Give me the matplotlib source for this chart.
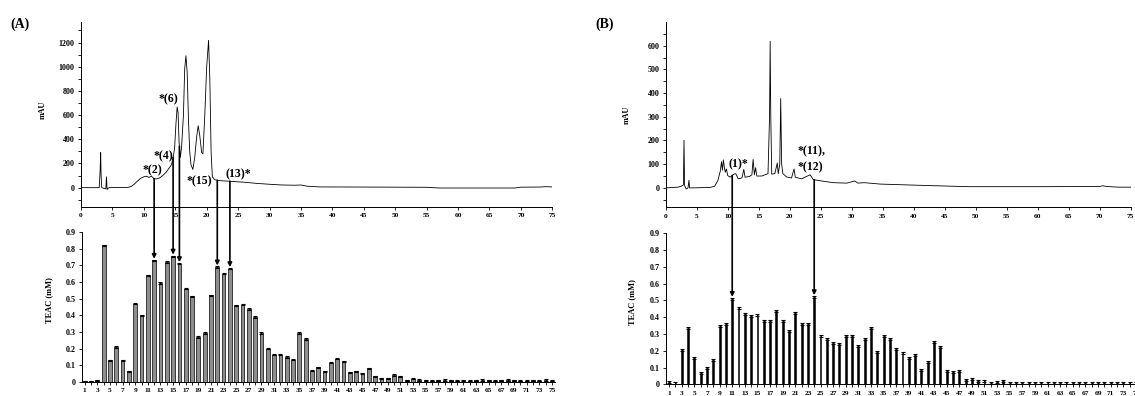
import numpy as np
import matplotlib.pyplot as plt
from matplotlib.patches import ConnectionPatch
from matplotlib.transforms import blended_transform_factory
from matplotlib.ticker import MultipleLocator, FixedLocator

plt.rcParams['font.family'] = ['Liberation Serif', 'DejaVu Serif']
plt.rcParams['font.weight'] = 'bold'
plt.rcParams['axes.linewidth'] = 0.7

# chromatogram (A): retention time (min), absorbance (mAU)
time_a = [0, 2.9, 3.05, 3.13, 3.2, 3.3, 3.6, 3.95, 4.05, 4.15, 4.3, 4.5, 7.5, 8.0, 8.5,
          9.0, 9.5, 10.0, 10.4, 10.8, 11.2, 11.6, 12.0, 12.5, 13.0, 13.5, 14.0, 14.4,
          14.7, 14.9, 15.1, 15.3, 15.45, 15.6, 15.8, 16.0, 16.3, 16.5, 16.7, 16.9, 17.1,
          17.3, 17.5, 17.8, 18.1, 18.4, 18.65, 18.9, 19.2, 19.4, 19.7, 20.0, 20.3, 20.5,
          20.7, 20.9, 21.3, 22, 23, 24, 25, 26, 27, 28, 30, 32, 34, 35, 36, 38, 45, 55,
          57, 69, 70, 73, 74, 75]
mau_a = [0, 0, 150, 290, 100, 0, -5, -10, 90, -15, -5, 0, 2, 10, 30,
         55, 78, 90, 95, 85, 95, 75, 72, 80, 100, 125, 160, 190,
         260, 330, 520, 667, 620, 380, 250, 330, 600, 980, 1091, 950, 560,
         300, 190, 150, 250, 420, 512, 430, 290, 280, 600, 1000, 1218, 900,
         300, 90, 65, 58, 55, 52, 48, 45, 40, 35, 28, 22, 20, 22, 12, 6, 5, 3,
         -3, -3, 4, 5, 8, 6]

# chromatogram (B)
time_b = [0, 2.0, 2.6, 2.85, 2.95, 3.05, 3.3, 3.6, 3.75, 3.85, 4.5, 7.2, 7.9, 8.4, 8.8,
          9.0, 9.15, 9.3, 9.5, 9.6, 9.8, 10.0, 10.4, 10.7, 11.0, 11.3, 11.7, 12.3, 12.6,
          12.8, 13.5, 13.9, 14.1, 14.3, 14.5, 14.7, 15.5, 16.0, 16.5, 16.75, 16.85, 16.95,
          17.1, 17.6, 18.0, 18.15, 18.4, 18.55, 18.7, 18.9, 19.5, 20.3, 20.7, 20.9, 21.9,
          22.7, 23.3, 23.8, 24.9, 27.0, 29.2, 30.5, 31.0, 32, 34.6, 42, 49, 60, 70, 70.5,
          71, 73, 75]
mau_b = [0, 3, 8, 12, 201, 10, -5, 0, 32, 0, 0, 2, 7, 30, 70,
         110, 75, 118, 80, 66, 80, 52, 45, 52, 58, 60, 38, 42, 78,
         45, 48, 55, 120, 55, 85, 50, 50, 55, 60, 300, 619, 300,
         58, 60, 105, 60, 100, 377, 100, 60, 46, 42, 80, 45, 38,
         48, 55, 35, 30, 22, 20, 29, 20, 22, 16, 10, 5, 5, 6, 9,
         6, 3, 3]

# TEAC of fractions 1..75 (mM)
fractions = np.arange(1, 76)
teac_a = [0.005, 0.005, 0.01, 0.82, 0.13, 0.21, 0.13, 0.065, 0.47, 0.40,
          0.64, 0.73, 0.595, 0.72, 0.755, 0.71, 0.56, 0.515, 0.27, 0.295,
          0.52, 0.69, 0.65, 0.68, 0.46, 0.465, 0.438, 0.39, 0.295, 0.20,
          0.165, 0.165, 0.15, 0.135, 0.295, 0.258, 0.068, 0.088, 0.064, 0.116,
          0.14, 0.124, 0.058, 0.064, 0.052, 0.082, 0.034, 0.022, 0.022, 0.042,
          0.034, 0.01, 0.02, 0.012, 0.01, 0.008, 0.01, 0.012, 0.01, 0.008,
          0.01, 0.008, 0.01, 0.012, 0.01, 0.008, 0.01, 0.012, 0.01, 0.008,
          0.008, 0.01, 0.008, 0.012, 0.008]
err_a = [0.004] * 75
teac_b = [0.015, 0.01, 0.205, 0.335, 0.155, 0.065, 0.10, 0.145, 0.345, 0.36,
          0.51, 0.455, 0.42, 0.41, 0.415, 0.375, 0.375, 0.435, 0.38, 0.32,
          0.425, 0.36, 0.36, 0.52, 0.29, 0.27, 0.245, 0.24, 0.285, 0.29,
          0.23, 0.272, 0.336, 0.195, 0.29, 0.268, 0.21, 0.185, 0.155, 0.177,
          0.085, 0.13, 0.25, 0.22, 0.078, 0.075, 0.08, 0.028, 0.03, 0.02,
          0.02, 0.01, 0.016, 0.018, 0.005, 0.005, 0.008, 0.005, 0.008, 0.005,
          0.008, 0.005, 0.008, 0.005, 0.008, 0.005, 0.008, 0.008, 0.01, 0.008,
          0.005, 0.008, 0.005, 0.008, 0.005]
err_b = [0.006] * 75

arrows_a = [12, 15, 16, 22, 24]
arrows_b = [11, 24]

labels_a = [("*(2)", 11.3, 140, 'center'), ("*(4)", 13.05, 256, 'center'),
            ("*(6)", 13.85, 727, 'center'), ("*(15)", 18.9, 50, 'center'),
            ("(13)*", 25.0, 107, 'center')]
labels_b = [("(1)*", 11.65, 100, 'center'), ("*(11),", 21.2, 154, 'left'),
            ("*(12)", 21.2, 87, 'left')]

W, H = 1135, 396
fig = plt.figure(figsize=(W / 100, H / 100), dpi=100)


def px_axes(l, t, r, b):
    return fig.add_axes([l / W, 1 - b / H, (r - l) / W, (b - t) / H])


def style(ax):
    for s in ['top', 'right']:
        ax.spines[s].set_visible(False)
    ax.tick_params(which='both', direction='out', length=2.5, width=0.6, pad=2)
    ax.tick_params(axis='x', labelsize=5.3)
    ax.tick_params(axis='y', labelsize=5.8)
    ax.tick_params(which='minor', length=2)
    for lab in ax.get_xticklabels() + ax.get_yticklabels():
        lab.set_fontweight('bold')


def chrom(ax, t, y, ylim, major, minor):
    ax.plot(t, y, color='black', lw=0.6)
    ax.set_xlim(0, 75)
    ax.set_ylim(*ylim)
    ax.xaxis.set_major_locator(MultipleLocator(5))
    ax.yaxis.set_major_locator(FixedLocator(major))
    ax.yaxis.set_minor_locator(FixedLocator(minor))
    style(ax)


def bars(ax, vals, errs, width, fc, lw):
    ax.bar(fractions, vals, width=width, color=fc, edgecolor='black', linewidth=lw,
           yerr=errs, error_kw=dict(ecolor='black', elinewidth=0.6, capsize=1.2, capthick=0.8))
    ax.set_ylim(0, 0.9)
    ax.set_yticks(np.arange(0, 0.91, 0.1))
    ax.set_yticklabels(['0'] + ['%.1f' % v for v in np.arange(0.1, 0.91, 0.1)])
    ax.set_xticks(fractions, minor=True)
    ax.set_xticks(fractions[::2])
    ax.tick_params(axis='x', which='minor', length=2)
    style(ax)


def link(ax_top, ax_bot, t, y, idx, vals, errs):
    blend = blended_transform_factory(ax_bot.transData, ax_top.transData)
    for i in idx:
        xd = ax_bot.transData.transform((i, 0))[0]
        tt = ax_top.transData.inverted().transform((xd, 0))[0]
        y0 = np.interp(tt, t, y)
        con = ConnectionPatch(xyA=(i, y0), coordsA=blend,
                              xyB=(i, vals[i - 1] + errs[i - 1] + 0.005),
                              coordsB=ax_bot.transData,
                              arrowstyle='-|>', mutation_scale=6, lw=1.2,
                              color='black', shrinkA=0, shrinkB=0)
        fig.add_artist(con)


# ---- panel A
ta = px_axes(81, 22, 552.3, 207)
chrom(ta, time_a, mau_a, (-160, 1370), np.arange(0, 1201, 200), np.arange(-100, 1301, 100))
ba = px_axes(82, 232, 555, 382)
ba.set_xlim(0.57, 75.5)
bars(ba, teac_a, err_a, 0.6, '#8e8e8e', 0.5)
link(ta, ba, time_a, mau_a, arrows_a, teac_a, err_a)
for s, x, y, ha in labels_a:
    ta.text(x, y, s, fontsize=8.5, fontweight='bold', ha=ha, va='center')

# ---- panel B
tb = px_axes(665.7, 22, 1130.7, 207.3)
chrom(tb, time_b, mau_b, (-82, 700), np.arange(0, 601, 100), np.arange(-50, 651, 50))
bb = px_axes(666, 233.3, 1139, 384.3)
bb.set_xlim(0.5, 75.5)
bars(bb, teac_b, err_b, 0.3, 'black', 0.4)
link(tb, bb, time_b, mau_b, arrows_b, teac_b, err_b)
for s, x, y, ha in labels_b:
    tb.text(x, y, s, fontsize=8.5, fontweight='bold', ha=ha, va='center')

# axis titles and panel letters
fig.text(43 / W, 1 - 110 / H, 'mAU', rotation=90, fontsize=5.8, fontweight='bold', ha='center', va='center')
fig.text(49 / W, 1 - 300 / H, 'TEAC (mM)', rotation=90, fontsize=6, fontweight='bold', ha='center', va='center')
fig.text(627 / W, 1 - 115 / H, 'mAU', rotation=90, fontsize=5.8, fontweight='bold', ha='center', va='center')
fig.text(632 / W, 1 - 302 / H, 'TEAC (mM)', rotation=90, fontsize=6, fontweight='bold', ha='center', va='center')
fig.text(10 / W, 1 - 24 / H, '(A)', fontsize=10, fontweight='bold', ha='left', va='center')
fig.text(595 / W, 1 - 24 / H, '(B)', fontsize=10, fontweight='bold', ha='left', va='center')

fig.savefig('out.png', dpi=100)
